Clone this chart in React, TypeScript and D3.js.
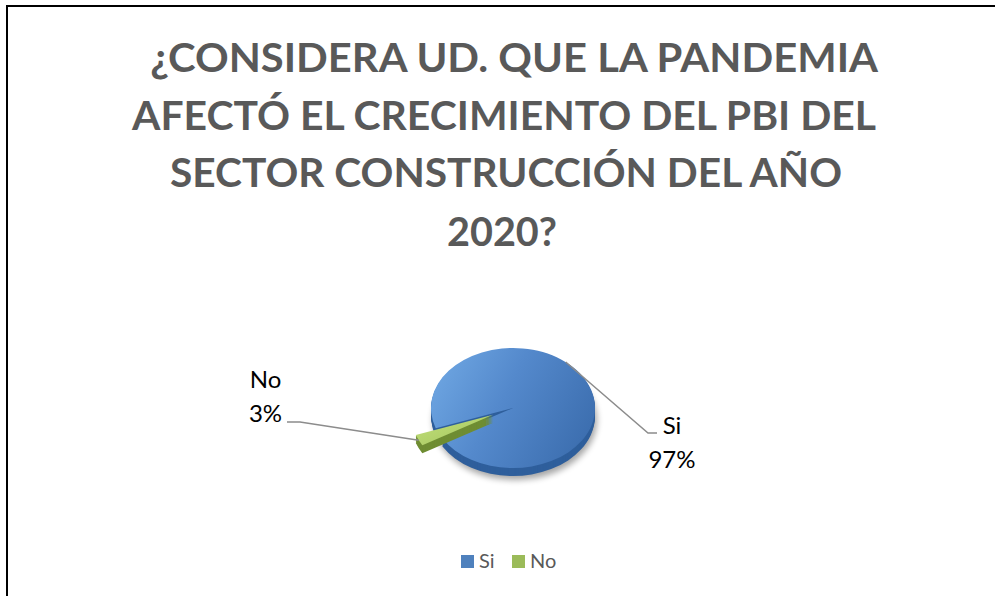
import React from 'react';
import * as d3 from 'd3';

const categories = ['Si', 'No'];
const values = [97, 3];
const percentLabels = ['97%', '3%'];
const titleLines = [
  ' ¿CONSIDERA UD. QUE LA PANDEMIA',
  'AFECTÓ EL CRECIMIENTO DEL PBI DEL',
  'SECTOR CONSTRUCCIÓN DEL AÑO',
  '2020?',
];

const W = 995;
const H = 596;

export default function App() {
  const cx = 513;
  const cy = 408;
  const R = 82;
  const ry = 60;
  const k = ry / R;
  const depth = 8;
  const explode = 22;
  const startDeg = 250.4;
  const start = (startDeg * Math.PI) / 180;

  const pie = d3
    .pie<number>()
    .sort(null)
    .startAngle(start)
    .endAngle(start + 2 * Math.PI)(values);
  const arc = d3.arc<d3.PieArcDatum<number>>().innerRadius(0).outerRadius(R);

  const offsets = pie.map((p, i) => {
    if (i !== 1) return [0, 0];
    const mid = (p.startAngle + p.endAngle) / 2;
    return [Math.sin(mid) * explode, -Math.cos(mid) * explode * k];
  });

  const topFills = ['url(#gBlue)', 'url(#gGreen)'];
  const sideFills = ['#2f5f9c', '#6f8d33'];

  // leader line geometry
  const siAnchorA = (40 * Math.PI) / 180;
  const siStart = [cx + R * Math.sin(siAnchorA), cy - ry * Math.cos(siAnchorA)];
  const noMid = (pie[1].startAngle + pie[1].endAngle) / 2;
  const noEnd = [
    cx + (R + explode) * Math.sin(noMid),
    cy - (R + explode) * Math.cos(noMid) * k,
  ];
  const siElbow = [cx + 135, cy + 25];
  const siTail = [cx + 144, cy + 25];
  const noElbow = [cx - 213, cy + 14];
  const noTail = [cx - 226, cy + 14];

  const labelPos = [
    { x: 672, y1: 434, y2: 468 },
    { x: 265.5, y1: 388, y2: 422 },
  ];

  const titleLayout = [
    { x: 140, len: 738 },
    { x: 132, len: 744 },
    { x: 170, len: 672 },
    { x: 447, len: 110 },
  ];
  const titleBase = [72, 130, 187, 246];

  const legendX = [461, 512];

  return (
    <svg
      width={W}
      height={H}
      style={{ position: 'absolute', left: 0, top: 0, background: '#fff' }}
    >
      <defs>
        <linearGradient id="gBlue" x1="0" y1="0.2" x2="1" y2="0.6">
          <stop offset="0" stopColor="#6ea6e2" />
          <stop offset="0.45" stopColor="#5489cc" />
          <stop offset="1" stopColor="#3d6fb0" />
        </linearGradient>
        <linearGradient id="gGreen" x1="0" y1="0" x2="1" y2="1">
          <stop offset="0" stopColor="#c2e07a" />
          <stop offset="1" stopColor="#a3c45e" />
        </linearGradient>
        <filter id="blur" x="-30%" y="-30%" width="160%" height="160%">
          <feGaussianBlur stdDeviation="3" />
        </filter>
      </defs>

      <rect x={7} y={6} width={1000} height={610} fill="#fff" stroke="#000" strokeWidth={2} />

      {titleLines.map((t, i) => (
        <text
          key={i}
          x={titleLayout[i].x}
          y={titleBase[i]}
          textLength={titleLayout[i].len}
          lengthAdjust="spacingAndGlyphs"
          fontFamily="Lato, 'Open Sans', sans-serif"
          fontWeight="bold"
          fontSize={40}
          fill="#595959"
          style={{ whiteSpace: 'pre' }}
        >
          {t}
        </text>
      ))}

      {/* shadow */}
      <ellipse
        cx={cx + 2}
        cy={cy + depth + 4}
        rx={R}
        ry={ry}
        fill="#000"
        opacity={0.35}
        filter="url(#blur)"
      />

      {pie.map((p, i) => (
        <g key={categories[i]}>
          {d3.range(depth, 0, -1).map((d) => (
            <g key={d} transform={`translate(${cx + offsets[i][0]},${cy + offsets[i][1] + d})`}>
              <path d={arc(p) || ''} transform={`scale(1,${k})`} fill={sideFills[i]} />
            </g>
          ))}
          <g transform={`translate(${cx + offsets[i][0]},${cy + offsets[i][1]})`}>
            <path d={arc(p) || ''} transform={`scale(1,${k})`} fill={topFills[i]} />
          </g>
        </g>
      ))}

      {/* leader lines */}
      <polyline
        points={[siStart, siElbow, siTail].map((q) => q.join(',')).join(' ')}
        fill="none"
        stroke="#8c8c8c"
        strokeWidth={1.5}
      />
      <polyline
        points={[noEnd, noElbow, noTail].map((q) => q.join(',')).join(' ')}
        fill="none"
        stroke="#8c8c8c"
        strokeWidth={1.5}
      />

      {categories.map((c, i) => (
        <g key={c} fontFamily="Lato, 'Open Sans', sans-serif" fontSize={24} fill="#000">
          <text x={labelPos[i].x} y={labelPos[i].y1} textAnchor="middle">
            {c}
          </text>
          <text x={labelPos[i].x} y={labelPos[i].y2} textAnchor="middle">
            {percentLabels[i]}
          </text>
        </g>
      ))}

      {categories.map((c, i) => (
        <g key={'lg' + c}>
          <rect
            x={legendX[i]}
            y={555}
            width={13}
            height={13}
            fill={i === 0 ? '#4f81bd' : '#9bbb59'}
          />
          <text
            x={legendX[i] + 18}
            y={568}
            fontFamily="Lato, 'Open Sans', sans-serif"
            fontSize={20}
            fill="#595959"
          >
            {c}
          </text>
        </g>
      ))}
    </svg>
  );
}
